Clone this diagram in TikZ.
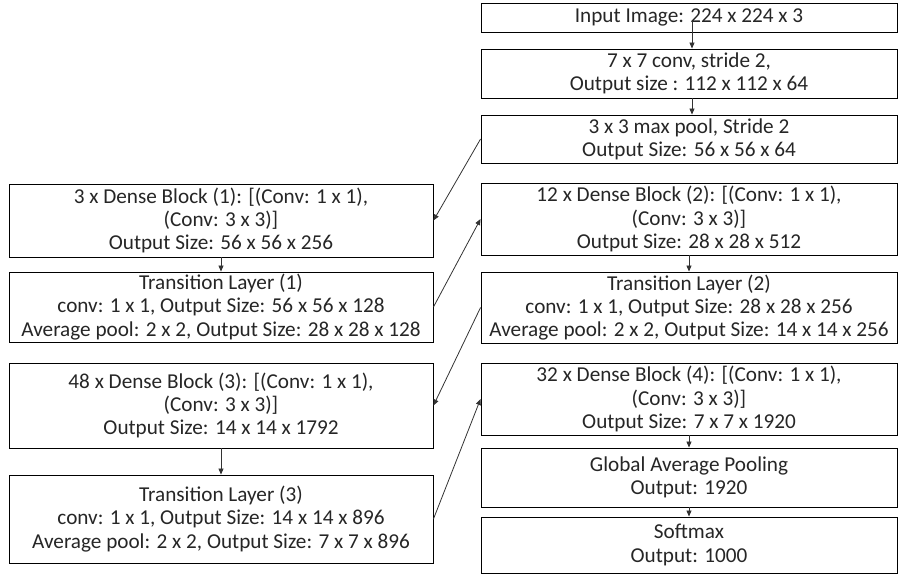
\documentclass[tikz,border=0pt]{standalone}
\usepackage{fontspec}
\setmainfont{Carlito}
\usetikzlibrary{arrows.meta}
\tikzset{
  blk/.style={draw=black, line width=0.9pt, fill=white, inner sep=0pt,
    align=center, font=\fontsize{21.2}{23.3}\selectfont, text=black!85},
  rcol/.style={blk, minimum width=416pt},
  lcol/.style={blk, minimum width=424pt},
  flow/.style={draw=black!80, line width=0.8pt,
    -{Triangle[length=6pt,width=5pt]}},
}
\begin{document}
\begin{tikzpicture}[x=1pt,y=1pt]
\useasboundingbox (0,0) rectangle (898,-576);

% right column
\node[rcol, minimum height=29pt] (in)   at (689,-17.5) {Input Image: 224 x 224 x 3};
\node[rcol, minimum height=49pt] (c7)   at (689,-73.5) {7 x 7 conv, stride 2,\\Output size : 112 x 112 x 64};
\node[rcol, minimum height=48pt] (pool) at (689,-139) {3 x 3 max pool, Stride 2\\Output Size: 56 x 56 x 64};
\node[rcol, minimum height=72pt] (d2)   at (689,-219) {12 x Dense Block (2): [(Conv: 1 x 1),\\(Conv: 3 x 3)]\\Output Size: 28 x 28 x 512};
\node[rcol, minimum height=71pt] (t2)   at (689,-307.5) {Transition Layer (2)\\conv: 1 x 1, Output Size: 28 x 28 x 256\\Average pool: 2 x 2, Output Size: 14 x 14 x 256};
\node[rcol, minimum height=72pt] (d4)   at (689,-399) {32 x Dense Block (4): [(Conv: 1 x 1),\\(Conv: 3 x 3)]\\Output Size: 7 x 7 x 1920};
\node[rcol, minimum height=59pt] (gap)  at (689,-477.5) {Global Average Pooling\\Output: 1920};
\node[rcol, minimum height=56pt] (sm)   at (689,-545) {Softmax\\Output: 1000};

% left column
\node[lcol, minimum height=73pt] (d1) at (221,-220.5) {3 x Dense Block (1): [(Conv: 1 x 1),\\(Conv: 3 x 3)]\\Output Size: 56 x 56 x 256};
\node[lcol, minimum height=70pt] (t1) at (221,-307) {Transition Layer (1)\\conv: 1 x 1, Output Size: 56 x 56 x 128\\Average pool: 2 x 2, Output Size: 28 x 28 x 128};
\node[lcol, minimum height=85pt] (d3) at (221,-405.5) {48 x Dense Block (3): [(Conv: 1 x 1),\\(Conv: 3 x 3)]\\Output Size: 14 x 14 x 1792};
\node[lcol, minimum height=88pt] (t3) at (221,-519) {Transition Layer (3)\\conv: 1 x 1, Output Size: 14 x 14 x 896\\Average pool: 2 x 2, Output Size: 7 x 7 x 896};

% vertical connectors
\draw[flow] ([xshift=3pt,yshift=-3pt]in.center) -- ([xshift=3pt]c7.north);
\draw[flow] ([xshift=3pt]c7.south) -- ([xshift=3pt]pool.north);
\draw[flow] (d1.south) -- (t1.north);
\draw[flow] (d2.south) -- (t2.north);
\draw[flow] (d3.south) -- (t3.north);
\draw[flow] (d4.south) -- (gap.north);
\draw[flow] (gap.south) -- (sm.north);

% zig-zag connectors between the columns
\draw[flow] (pool.west) -- (d1.east);
\draw[flow] (t1.east) -- (d2.west);
\draw[flow] (t2.west) -- (d3.east);
\draw[flow] (t3.east) -- (d4.west);
\end{tikzpicture}
\end{document}
